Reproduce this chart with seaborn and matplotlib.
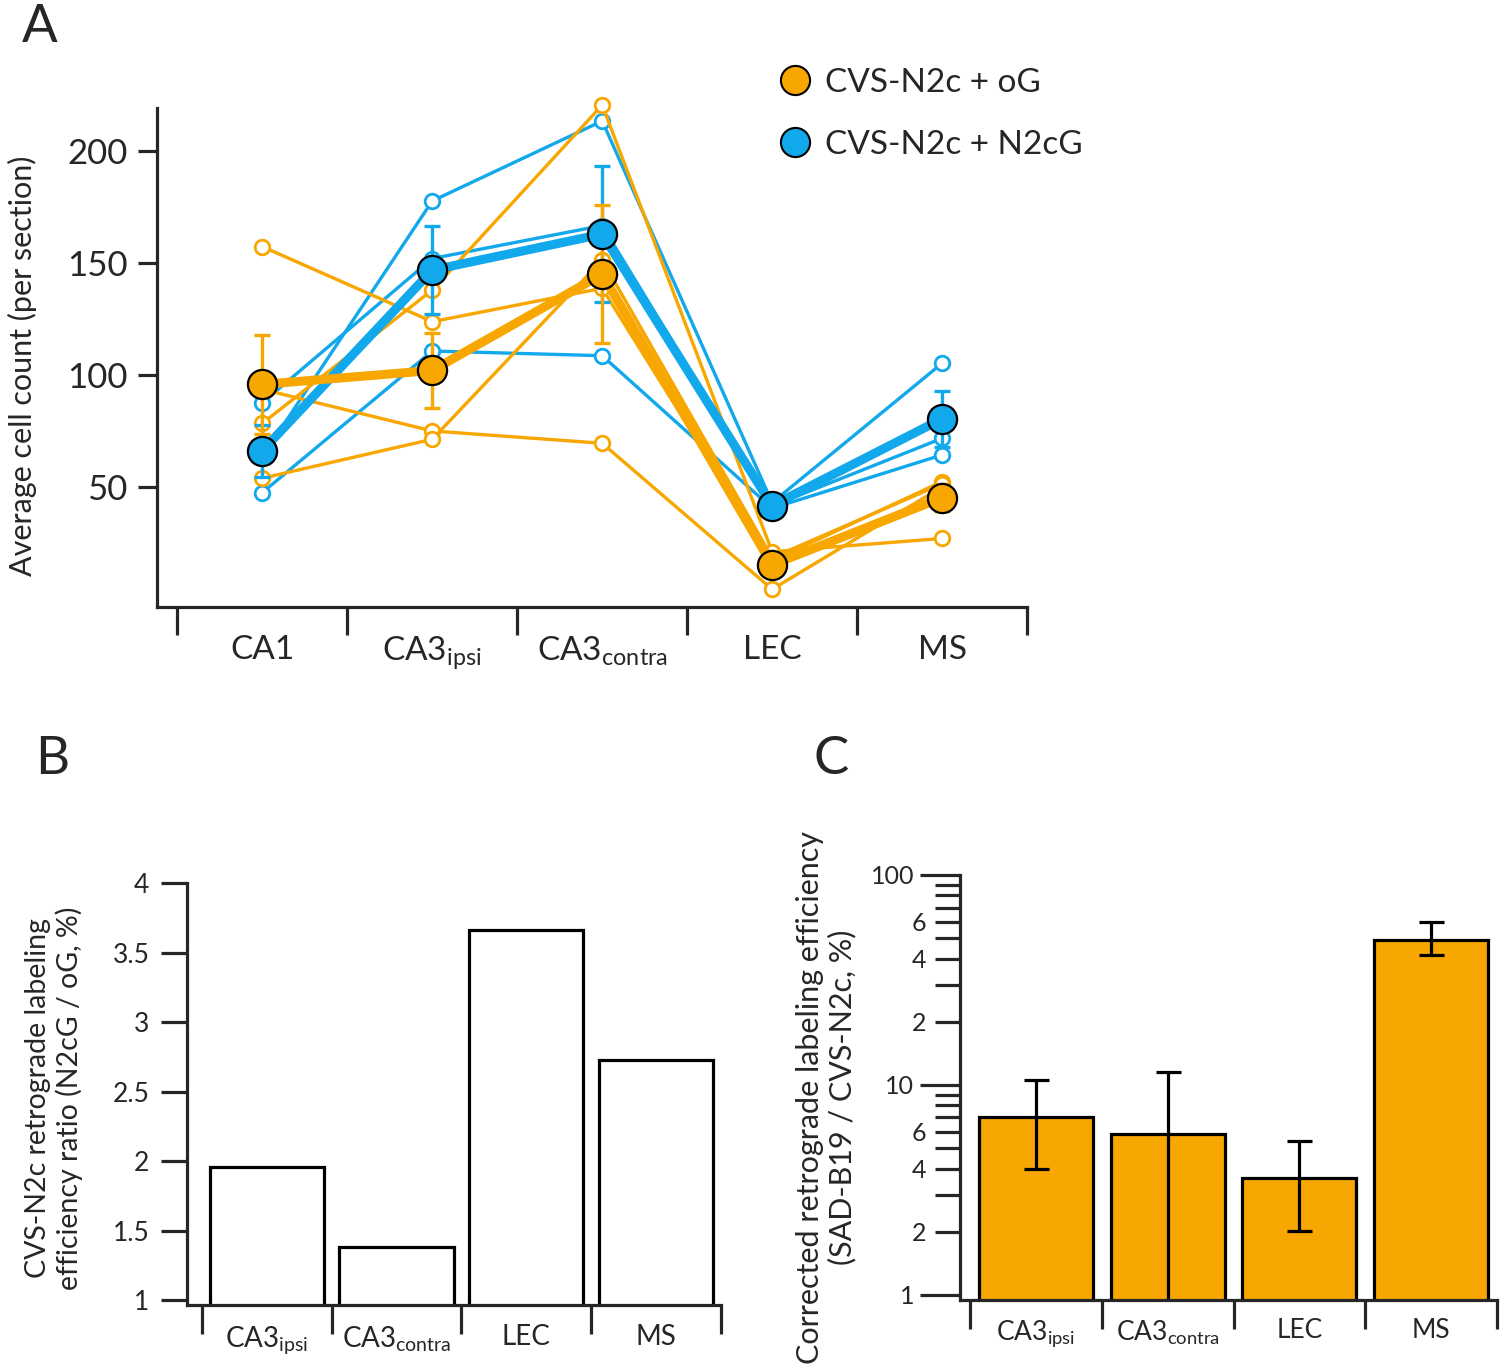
import numpy as np
import pandas as pd
import seaborn as sns
import matplotlib.pyplot as plt
from matplotlib.lines import Line2D
from matplotlib.ticker import FixedLocator, FixedFormatter

# ---- data ----
regions = ["CA1", "CA3ipsi", "CA3contra", "LEC", "MS"]
region_labels = ["CA1", r"CA3$_{\mathregular{ipsi}}$", r"CA3$_{\mathregular{contra}}$", "LEC", "MS"]

# individual animals, CVS-N2c + oG
og_1 = [157.3, 123.8, 138.7, 17.0, 52.4]
og_2 = [93.6, 75.0, 69.5, 4.3, 50.0]
og_3 = [78.4, 137.9, 220.5, 21.1, 27.0]
og_4 = [53.9, 71.3, 151.3, 18.4, 51.4]
# individual animals, CVS-N2c + N2cG
n2cg_1 = [87.6, 152.0, 166.7, 41.5, 71.7]
n2cg_2 = [63.5, 177.7, 213.4, 43.0, 105.2]
n2cg_3 = [47.5, 110.7, 108.6, 40.5, 64.3]

a_yticks = [50, 100, 150, 200]

bar_regions = ["CA3ipsi", "CA3contra", "LEC", "MS"]
bar_labels = [r"CA3$_{\mathregular{ipsi}}$", r"CA3$_{\mathregular{contra}}$", "LEC", "MS"]

ratio_vals = [1.96, 1.38, 3.66, 2.73]
b_yticks = [1, 1.5, 2, 2.5, 3, 3.5, 4]
b_yticklabels = ["1", "1.5", "2", "2.5", "3", "3.5", "4"]

corr_vals = [7.06, 5.84, 3.61, 49.2]
corr_err_low = [3.06, 5.34, 1.6, 7.8]
corr_err_high = [3.5, 5.66, 1.8, 10.4]
c_major = [1, 10, 100]
c_major_labels = ["1", "10", "100"]
c_minor = [2, 3, 4, 5, 6, 7, 8, 9, 20, 30, 40, 50, 60, 70, 80, 90]
c_minor_labels = ["2", "", "4", "", "6", "", "", "", "2", "", "4", "", "6", "", "", ""]

ORANGE = "#F8A600"
BLUE = "#12A8EC"

rows = []
for grp, animals in [("oG", [og_1, og_2, og_3, og_4]), ("N2cG", [n2cg_1, n2cg_2, n2cg_3])]:
    for i, vals in enumerate(animals):
        for r, v in zip(regions, vals):
            rows.append({"group": grp, "animal": f"{grp}{i}", "region": r, "count": v})
df = pd.DataFrame(rows)

sns.set_style("ticks")
plt.rcParams["font.family"] = ["Lato", "DejaVu Sans"]
LW = 2.3

fig = plt.figure(figsize=(15, 13.72), dpi=100)

# ---- panel A ----
axA = fig.add_axes([157 / 1500, 1 - 607 / 1372, (1027 - 157) / 1500, (607 - 108) / 1372])
for grp, col in [("N2cG", BLUE), ("oG", ORANGE)]:
    sub = df[df.group == grp]
    sns.lineplot(data=sub, x="region", y="count", units="animal", estimator=None,
                 color=col, lw=2.4, marker="o", ms=10.5, mfc="white", mec=col, mew=2,
                 ax=axA, zorder=2)
for grp, col in [("N2cG", BLUE), ("oG", ORANGE)]:
    sub = df[df.group == grp]
    sns.lineplot(data=sub, x="region", y="count", errorbar="se", err_style="bars",
                 color=col, lw=6.5, marker="o", ms=21, mfc=col, mec="black", mew=1.6,
                 err_kws=dict(capsize=6, capthick=2.4, elinewidth=2.4, zorder=2.5),
                 ax=axA, zorder=3)
for ln in axA.lines:
    ln.set_clip_on(False)

axA.set_xlim(-0.62, 4.5)
axA.set_ylim(-3.6, 219.2)
axA.set_yticks(a_yticks)
axA.set_xticks(range(len(regions)))
axA.set_xticklabels(region_labels)
axA.set_xticks(np.arange(-0.5, len(regions), 1), minor=True)
axA.tick_params(axis="x", which="major", length=0, pad=20, labelsize=24)
axA.tick_params(axis="x", which="minor", length=20, width=LW, direction="out")
axA.tick_params(axis="y", length=14, width=LW, pad=7, labelsize=25)
axA.set_xlabel("")
axA.set_ylabel("")
sns.despine(ax=axA)
for s in axA.spines.values():
    s.set_linewidth(LW)

handles = [Line2D([], [], ls="", marker="o", ms=21, mfc=ORANGE, mec="black", mew=1.5),
           Line2D([], [], ls="", marker="o", ms=21, mfc=BLUE, mec="black", mew=1.5)]
fig.legend(handles, ["CVS-N2c + oG", "CVS-N2c + N2cG"], loc="center left",
           bbox_to_anchor=(762 / 1500, 1 - 114 / 1372), frameon=False, fontsize=24,
           handletextpad=0.4, labelspacing=0.95, handlelength=1.0, borderpad=0)

# ---- panel B ----
axB = fig.add_axes([187 / 1500, 1 - 1305 / 1372, (721 - 187) / 1500, (1305 - 883) / 1372])
sns.barplot(x=bar_regions, y=ratio_vals, color="white", saturation=1, edgecolor="black",
            linewidth=LW, width=0.88, ax=axB)
axB.set_ylim(0.965, 4.0)
axB.set_xlim(-0.615, 3.5)
axB.set_yticks(b_yticks)
axB.set_yticklabels(b_yticklabels)
axB.set_xticks(range(len(bar_regions)))
axB.set_xticklabels(bar_labels)
axB.set_xticks(np.arange(-0.5, len(bar_regions), 1), minor=True)
axB.tick_params(axis="x", which="major", length=0, pad=14, labelsize=20)
axB.tick_params(axis="x", which="minor", length=21, width=LW)
axB.tick_params(axis="y", length=19, width=LW, pad=8, labelsize=19)
sns.despine(ax=axB)
for s in axB.spines.values():
    s.set_linewidth(LW)

# ---- panel C ----
axC = fig.add_axes([960 / 1500, 1 - 1300 / 1372, (1497 - 960) / 1500, (1300 - 875) / 1372])
sns.barplot(x=bar_regions, y=corr_vals, color=ORANGE, saturation=1, edgecolor="black",
            linewidth=LW, width=0.865, ax=axC)
axC.set_yscale("log")
axC.errorbar(np.arange(len(bar_regions)), corr_vals, yerr=[corr_err_low, corr_err_high],
             fmt="none", ecolor="black", elinewidth=LW, capsize=9, capthick=LW)
axC.set_ylim(0.946, 100)
axC.set_xlim(-0.576, 3.5)
axC.yaxis.set_major_locator(FixedLocator(c_major))
axC.yaxis.set_major_formatter(FixedFormatter(c_major_labels))
axC.yaxis.set_minor_locator(FixedLocator(c_minor))
axC.yaxis.set_minor_formatter(FixedFormatter(c_minor_labels))
axC.tick_params(axis="y", which="major", length=29, width=LW, pad=4, labelsize=18)
axC.tick_params(axis="y", which="minor", length=18, width=LW, pad=6, labelsize=18)
axC.set_xticks(range(len(bar_regions)))
axC.set_xticklabels(bar_labels)
axC.set_xticks(np.arange(-0.5, len(bar_regions), 1), minor=True)
axC.tick_params(axis="x", which="major", length=0, pad=13, labelsize=19)
axC.tick_params(axis="x", which="minor", length=21, width=LW)
sns.despine(ax=axC)
for s in axC.spines.values():
    s.set_linewidth(LW)

# ---- labels ----
fig.text(22 / 1500, 1 - 366 / 1372, "Average cell count (per section)", rotation=90,
         ha="center", va="center", fontsize=22)
fig.text(54 / 1500, 1 - 1098 / 1372, "CVS-N2c retrograde labeling\nefficiency ratio (N2cG / oG, %)",
         rotation=90, ha="center", va="center", fontsize=20.5, linespacing=1.15)
fig.text(826 / 1500, 1 - 1097 / 1372, "Corrected retrograde labeling efficiency\n(SAD-B19 / CVS-N2c, %)",
         rotation=90, ha="center", va="center", fontsize=22, linespacing=1.15)
fig.text(22 / 1500, 1 - 4 / 1372, "A", fontsize=38, va="top")
fig.text(35 / 1500, 1 - 736 / 1372, "B", fontsize=38, va="top")
fig.text(813 / 1500, 1 - 736 / 1372, "C", fontsize=38, va="top")

fig.savefig("out.png", dpi=100)
